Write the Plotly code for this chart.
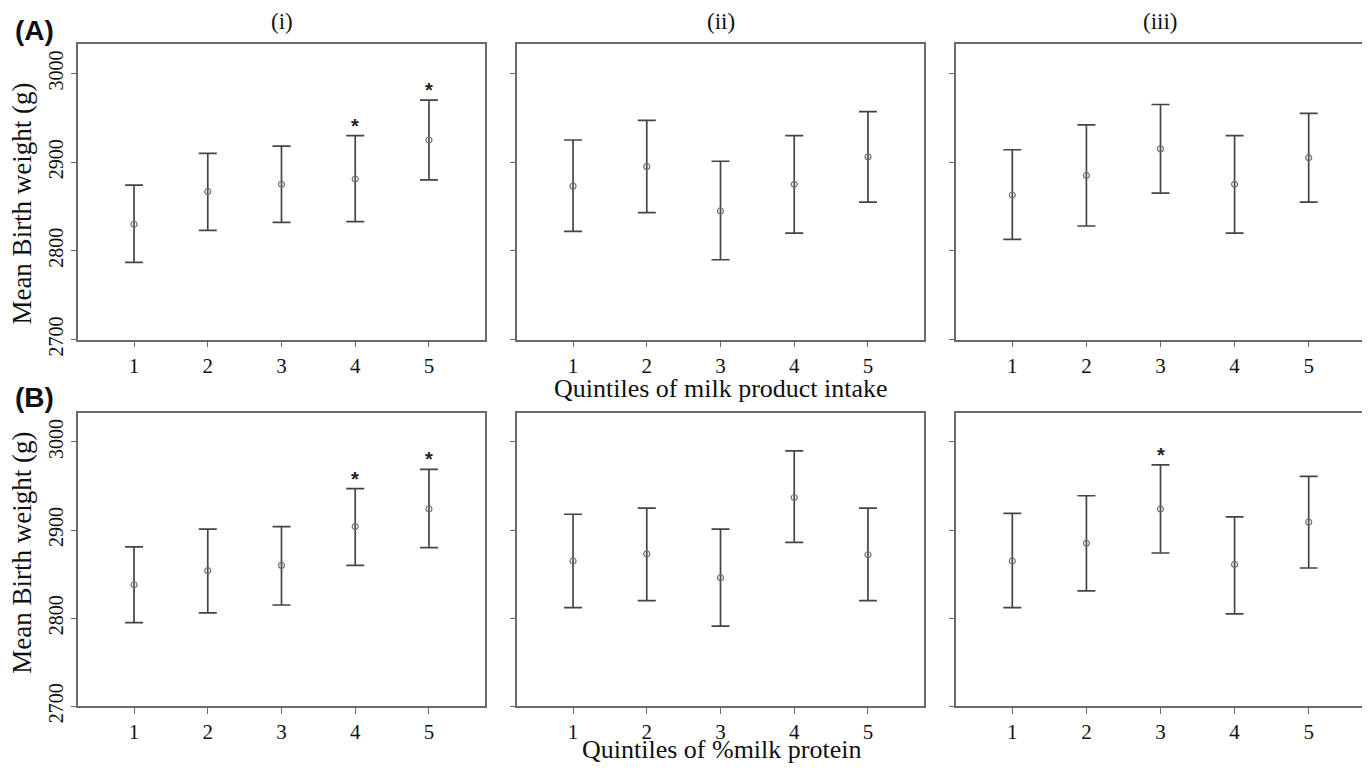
import plotly.graph_objects as go

quintiles = [1, 2, 3, 4, 5]
y_ticks = [2700, 2800, 2900, 3000]
col_titles = ["(i)", "(ii)", "(iii)"]
row_labels = ["(A)", "(B)"]
x_titles = ["Quintiles of milk product intake", "Quintiles of %milk protein"]
y_title = "Mean Birth weight (g)"

# Row A: milk product intake
a1_mean = [2830, 2867, 2875, 2881, 2925]
a1_upper = [2874, 2910, 2918, 2930, 2970]
a1_lower = [2787, 2823, 2832, 2833, 2880]
a2_mean = [2873, 2895, 2845, 2875, 2906]
a2_upper = [2925, 2947, 2901, 2930, 2957]
a2_lower = [2822, 2843, 2790, 2820, 2855]
a3_mean = [2863, 2885, 2915, 2875, 2905]
a3_upper = [2914, 2942, 2965, 2930, 2955]
a3_lower = [2813, 2828, 2865, 2820, 2855]
# Row B: %milk protein
b1_mean = [2838, 2854, 2860, 2904, 2924]
b1_upper = [2881, 2901, 2904, 2947, 2969]
b1_lower = [2795, 2806, 2815, 2860, 2880]
b2_mean = [2865, 2873, 2846, 2937, 2872]
b2_upper = [2918, 2925, 2901, 2990, 2925]
b2_lower = [2812, 2820, 2791, 2886, 2820]
b3_mean = [2865, 2885, 2924, 2861, 2909]
b3_upper = [2919, 2939, 2974, 2915, 2961]
b3_lower = [2812, 2831, 2874, 2805, 2857]

# significance markers (quintiles marked with *)
a1_sig = [4, 5]
a2_sig = []
a3_sig = []
b1_sig = [4, 5]
b2_sig = []
b3_sig = [3]

panels = [
    [(a1_mean, a1_upper, a1_lower, a1_sig), (a2_mean, a2_upper, a2_lower, a2_sig), (a3_mean, a3_upper, a3_lower, a3_sig)],
    [(b1_mean, b1_upper, b1_lower, b1_sig), (b2_mean, b2_upper, b2_lower, b2_sig), (b3_mean, b3_upper, b3_lower, b3_sig)],
]

# page body has an 8px margin; work in screenshot pixels and convert
OFF = 8
W, H = 1370 - OFF, 782 - OFF


def px_x(x):
    return min(1.0, max(0.0, (x - OFF) / W))


def px_y(y):
    return min(1.0, max(0.0, 1 - (y - OFF) / H))


xdom_px = [(78, 485), (517, 924), (956, 1365)]
ydom_px = [(45, 347), (422, 722)]

fig = go.Figure()
layout = dict(
    width=W, height=H, margin=dict(l=0, r=0, t=0, b=0),
    paper_bgcolor="white", plot_bgcolor="white", showlegend=False,
)
annotations = []
serif = "Liberation Serif, Times New Roman, serif"
axis_color = "#6a6a6a"

k = 0
for r in range(2):
    for c in range(3):
        k += 1
        xa = "x" if k == 1 else f"x{k}"
        ya = "y" if k == 1 else f"y{k}"
        mean, upper, lower, sig = panels[r][c]
        err_plus = [u - m for u, m in zip(upper, mean)]
        err_minus = [m - l for m, l in zip(mean, lower)]
        fig.add_trace(go.Scatter(
            x=quintiles, y=mean, mode="markers", xaxis=xa, yaxis=ya,
            marker=dict(symbol="circle-open", size=6, color="#6f6f6f", line=dict(width=1.2)),
            error_y=dict(type="data", symmetric=False, array=err_plus, arrayminus=err_minus,
                         color="#444444", thickness=1.7, width=9),
        ))
        for q in sig:
            annotations.append(dict(
                x=q, y=upper[q - 1], xref=xa, yref=ya, text="<b>*</b>", showarrow=False,
                xanchor="center", yanchor="bottom", yshift=-3,
                font=dict(family="Arial, sans-serif", size=20, color="#222"),
            ))
        x0, x1 = xdom_px[c]
        y0, y1 = ydom_px[r]
        xkey = "xaxis" if k == 1 else f"xaxis{k}"
        ykey = "yaxis" if k == 1 else f"yaxis{k}"
        layout[xkey] = dict(
            domain=[px_x(x0), px_x(x1)], anchor=ya, range=[0.24, 5.76],
            tickmode="array", tickvals=quintiles, ticktext=[str(q) for q in quintiles],
            ticks="outside", ticklen=6, tickcolor=axis_color, tickwidth=1.2,
            showline=True, linecolor=axis_color, linewidth=1.5, mirror=True,
            showgrid=False, zeroline=False,
            tickfont=dict(family=serif, size=21, color="#111"),
        )
        layout[ykey] = dict(
            domain=[px_y(y1), px_y(y0)], anchor=xa, range=[2700, 3033],
            tickmode="array", tickvals=y_ticks,
            ticktext=[str(t) for t in y_ticks] if c == 0 else ["" for t in y_ticks],
            ticks="outside", ticklen=5, tickcolor=axis_color, tickwidth=1.2,
            showline=True, linecolor=axis_color, linewidth=1.5, mirror=True,
            showgrid=False, zeroline=False, tickangle=-90,
            tickfont=dict(family=serif, size=20, color="#111"),
        )

# column titles
for c, t in enumerate(col_titles):
    x0, x1 = xdom_px[c]
    annotations.append(dict(x=px_x((x0 + x1) / 2), y=px_y(22), xref="paper", yref="paper",
                            xanchor="center", yanchor="middle",
                            text=t, showarrow=False, font=dict(family=serif, size=23, color="#111")))
# row labels
for t, yc in zip(row_labels, [31, 406]):
    annotations.append(dict(x=px_x(13), y=px_y(yc), xref="paper", yref="paper",
                            xanchor="left", yanchor="middle",
                            text=f"<b>{t}</b>", showarrow=False,
                            font=dict(family="Arial, Liberation Sans, sans-serif", size=28, color="#111")))
# y titles
for yc in [208, 565]:
    annotations.append(dict(x=px_x(22), y=px_y(yc), xref="paper", yref="paper",
                            xanchor="center", yanchor="middle",
                            text=y_title, textangle=-90, showarrow=False,
                            font=dict(family=serif, size=27, color="#111")))
# x titles
for t, yc in zip(x_titles, [397, 766]):
    annotations.append(dict(x=px_x(721), y=px_y(yc), xref="paper", yref="paper",
                            xanchor="center", yanchor="middle",
                            text=t, showarrow=False, font=dict(family=serif, size=26, color="#111")))

layout["annotations"] = annotations
fig.update_layout(**layout)
fig.write_html("out.html")
